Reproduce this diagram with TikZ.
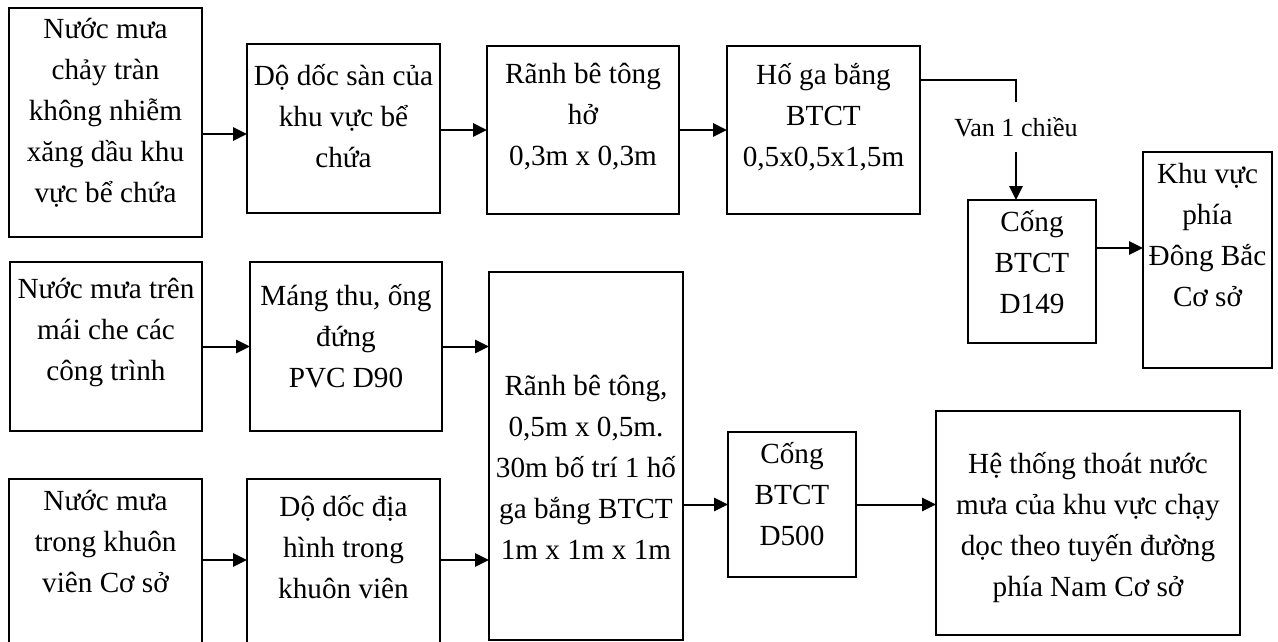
\documentclass[tikz,border=0pt]{standalone}
\usepackage{fontspec}
\setmainfont{Liberation Serif}
\usetikzlibrary{arrows.meta}
\tikzset{
  box/.style={draw, line width=1.5pt, inner sep=0pt, outer sep=0pt},
  txt/.style={align=center, inner sep=0pt, font=\fontsize{21.9}{30.75}\selectfont},
  arr/.style={line width=1.5pt, -{Triangle[length=10.5pt,width=10pt]}},
  lbl/.style={inner sep=0pt, minimum height=37.5pt, font=\fontsize{19.6}{24}\selectfont}
}
\begin{document}
\begin{tikzpicture}[x=0.75pt,y=-0.75pt]
\useasboundingbox (0,0) rectangle (1278,642);
\clip (0,0) rectangle (1278,642);
\fill[white] (0,0) rectangle (1278,642);
% boxes
\node[box, minimum width=144.75pt, minimum height=171.75pt] (A) at (105.5,122.5) {};
\node[box, minimum width=144.75pt, minimum height=126.75pt] (B) at (343.5,128.5) {};
\node[box, minimum width=144pt, minimum height=126pt] (C) at (583,130) {};
\node[box, minimum width=144.75pt, minimum height=126pt] (D) at (823.5,130) {};
\node[box, minimum width=96pt, minimum height=107.25pt] (E) at (1032,271.5) {};
\node[box, minimum width=96.75pt, minimum height=162pt] (F) at (1207.5,260) {};
\node[box, minimum width=144pt, minimum height=126.75pt] (G) at (106,346.5) {};
\node[box, minimum width=144pt, minimum height=126.75pt] (H) at (346,346.5) {};
\node[box, minimum width=145.5pt, minimum height=276pt] (I) at (586,456) {};
\node[box, minimum width=144.75pt, minimum height=135.75pt] (J) at (105.5,569.5) {};
\node[box, minimum width=144.75pt, minimum height=135.75pt] (K) at (343.5,569.5) {};
\node[box, minimum width=96pt, minimum height=108.75pt] (L) at (792,504.5) {};
\node[box, minimum width=228pt, minimum height=168pt] (M) at (1088,523) {};
% texts
\node[txt] (tA) at (105.5,112.5) {Nước mưa\\chảy tràn\\không nhiễm\\xăng dầu khu\\vực bể chứa};
\node[txt] (tB) at (343.5,116) {Dộ dốc sàn của\\khu vực bể\\chứa};
\node[txt] (tC) at (583,117) {Rãnh bê tông\\hở\\0,3m x 0,3m};
\node[txt] (tD) at (823.5,117) {Hố ga bắng\\BTCT\\0,5x0,5x1,5m};
\node[txt] (tE) at (1032,262) {Cống\\BTCT\\D149};
\node[txt] (tF) at (1207.5,235) {Khu vực\\phía\\Đông Bắc\\Cơ sở};
\node[txt] (tG) at (106,332) {Nước mưa trên\\mái che các\\công trình};
\node[txt] (tH) at (346,336) {Máng thu, ống\\đứng\\PVC D90};
\node[txt] (tI) at (586,467) {Rãnh bê tông,\\0,5m x 0,5m.\\30m bố trí 1 hố\\ga bắng BTCT\\1m x 1m x 1m};
\node[txt] (tJ) at (105.5,541) {Nước mưa\\trong khuôn\\viên Cơ sở};
\node[txt] (tK) at (343.5,547) {Dộ dốc địa\\hình trong\\khuôn viên};
\node[txt] (tL) at (792,494) {Cống\\BTCT\\D500};
\node[txt] (tM) at (1088,528) {Hệ thống thoát nước\\mưa của khu vực chạy\\dọc theo tuyến đường\\phía Nam Cơ sở};
% valve label
\node[lbl] (van) at (1016,127) {Van 1 chiều};
% helper coordinates
\path (B.west) ++(0,5.5) coordinate (bin);
\path (F.west) ++(0,-12) coordinate (fin);
\path (K.west) ++(0,-9.5) coordinate (kin);
\path (D.east) ++(0,-50) coordinate (dout);
% connectors
\draw[arr] (A.east |- bin) -- (bin);
\draw[arr] (B.east |- C.west) -- (C.west);
\draw[arr] (C.east |- D.west) -- (D.west);
\draw[line width=1.5pt] (dout) -| (van.north);
\draw[arr] (van.south) -- (van.south |- E.north);
\draw[arr] (E.east |- fin) -- (fin);
\draw[arr] (G.east |- H.west) -- (H.west);
\draw[arr] (H.east) -- (H.east -| I.west);
\draw[arr] (J.east |- kin) -- (kin);
\draw[arr] (K.east |- kin) -- (kin -| I.west);
\draw[arr] (I.east |- L.west) -- (L.west);
\draw[arr] (L.east) -- (L.east -| M.west);
\end{tikzpicture}
\end{document}
